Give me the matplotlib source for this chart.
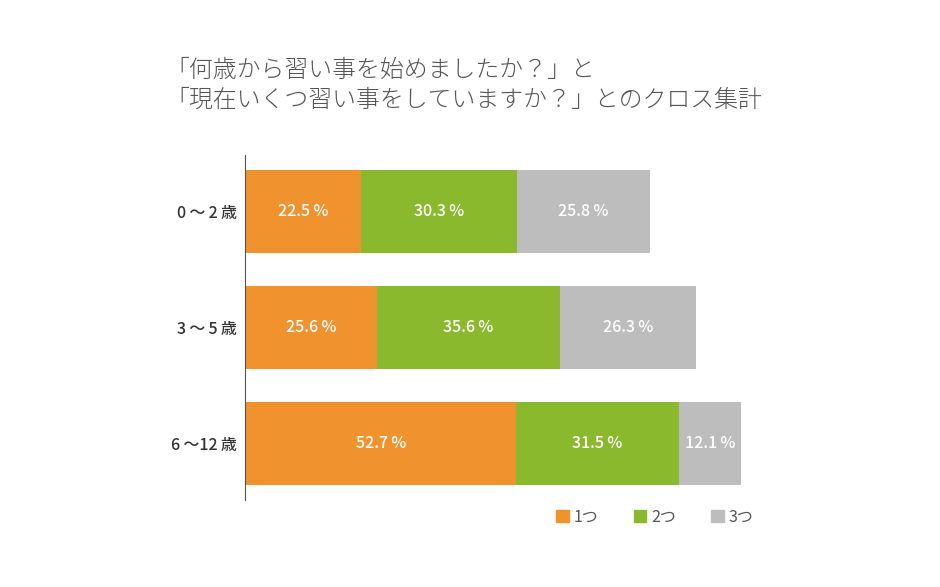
import numpy as np
import matplotlib.pyplot as plt
from matplotlib.patches import Patch

plt.rcParams['font.family'] = ['Noto Sans CJK JP', 'DejaVu Sans']

# データ
ages = ["0\u2009～\u20092\u2009歳", "3\u2009～\u20095\u2009歳", "6\u2009～12\u2009歳"]
series = ["1つ", "2つ", "3つ"]
one = [22.5, 25.6, 52.7]
two = [30.3, 35.6, 31.5]
three = [25.8, 26.3, 12.1]
colors = ["#F0922E", "#8AB92D", "#BDBDBD"]

fig = plt.figure(figsize=(9.4, 5.87), dpi=100)
ax = fig.add_axes([245/940, 87/587, 515/940, 345/587])

y = np.arange(len(ages))
left = np.zeros(len(ages))
for vals, c in zip([one, two, three], colors):
    ax.barh(y, vals, left=left, height=0.716, color=c, edgecolor='none')
    for yi, l, v in zip(y, left, vals):
        ax.text(l + v/2, yi, f"{v:.1f}\u2009%", ha='center', va='center',
                color='white', fontsize=11.5, fontweight='medium')
    left = left + np.array(vals)

ax.set_xlim(0, 100)
ax.set_ylim(2.487, -0.487)
ax.set_yticks(y)
ax.set_yticklabels(ages, fontsize=11.5, fontweight='medium', color='#333333')
ax.tick_params(axis='y', length=0, pad=6)
ax.set_xticks([])
for s in ['top', 'right', 'bottom']:
    ax.spines[s].set_visible(False)
ax.spines['left'].set_color('#555555')
ax.spines['left'].set_linewidth(0.8)

fig.text(165/940, 1 - 70/587, "「何歳から習い事を始めましたか？」と", fontsize=17.2,
         color='#555555', va='center', ha='left', fontweight='light')
fig.text(165/940, 1 - 100/587, "「現在いくつ習い事をしていますか？」とのクロス集計", fontsize=17.2,
         color='#555555', va='center', ha='left', fontweight='light')

handles = [Patch(color=c, label=s) for c, s in zip(colors, series)]
fig.legend(handles=handles, loc='center', bbox_to_anchor=(655/940, 1 - 517/587),
           ncol=3, frameon=False, handlelength=0.8, handleheight=0.8,
           handletextpad=0.3, columnspacing=2.2, fontsize=11.5,
           labelcolor='#555555')

fig.savefig("out.png", dpi=100)
